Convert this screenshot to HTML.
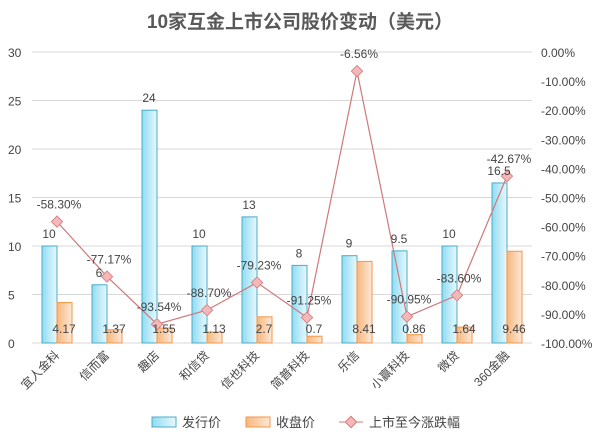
<!DOCTYPE html>
<html><head><meta charset="utf-8"><style>
body{margin:0;background:#fff}
svg text{font-family:"Liberation Sans","Noto Sans CJK SC",sans-serif;fill:#444}
</style></head><body>
<svg width="600" height="442">
<defs>
<linearGradient id="gb" x1="0" x2="1" y1="0" y2="0"><stop offset="0" stop-color="#8fdcf2"/><stop offset="1" stop-color="#e8f8fd"/></linearGradient>
<linearGradient id="go" x1="0" x2="1" y1="0" y2="0"><stop offset="0" stop-color="#f7b77e"/><stop offset="1" stop-color="#fde8d6"/></linearGradient>
</defs>
<text x="300" y="28" text-anchor="middle" font-size="19" font-weight="bold" style="fill:#595959">10家互金上市公司股价变动（美元）</text>
<g id="grid"></g><g id="bars"></g><g id="line"></g><g id="labels"></g>
<g>
<rect x="152" y="417" width="24" height="10" fill="url(#gb)" stroke="#4bacc6"/>
<text x="182" y="427" font-size="13">发行价</text>
<rect x="246" y="417" width="24" height="10" fill="url(#go)" stroke="#f79646"/>
<text x="276" y="427" font-size="13">收盘价</text>
<line x1="339" y1="422" x2="363" y2="422" stroke="#d0787a"/>
<rect x="347" y="418" width="8" height="8" fill="#f4b8b8" stroke="#d0787a" transform="rotate(45 351 422)"/>
<text x="369" y="427" font-size="13">上市至今涨跌幅</text>
</g>
</svg>
<script>
const categories=["宜人金科","信而富","趣店","和信贷","信也科技","简普科技","乐信","小赢科技","微贷","360金融"];
const issuePrice=[10,6,24,10,13,8,9,9.5,10,16.5];
const closePrice=[4.17,1.37,1.55,1.13,2.7,0.7,8.41,0.86,1.64,9.46];
const changePct=[-58.30,-77.17,-93.54,-88.70,-79.23,-91.25,-6.56,-90.95,-83.60,-42.67];
const leftTicks=[0,5,10,15,20,25,30];
const rightTicks=[0,-10,-20,-30,-40,-50,-60,-70,-80,-90,-100];
const NS="http://www.w3.org/2000/svg";
const x0=32,x1=532,yTop=52,yBot=343;
const band=(x1-x0)/categories.length;
const cx=i=>x0+band*(i+0.5);
const yL=v=>yBot-(v/30)*(yBot-yTop);
const yR=v=>yTop+(-v/100)*(yBot-yTop);
function mk(tag,attrs,parent,txt){const e=document.createElementNS(NS,tag);for(const k in attrs)e.setAttribute(k,attrs[k]);if(txt!==undefined)e.textContent=txt;document.getElementById(parent).appendChild(e);return e;}
leftTicks.forEach(t=>{
 const l=mk("line",{x1:x0,x2:x1,y1:yL(t),y2:yL(t),stroke:"#d9d9d9"},"grid");
 
 
 const tx=mk("text",{x:8,y:yL(t)+5,"font-size":12},"grid",t);
 
 
});
rightTicks.forEach(t=>{
 const tx=mk("text",{x:541,y:yR(t)+5,"font-size":12},"grid",t.toFixed(2)+"%");
 
 
});
categories.forEach((c,i)=>{
 const b=mk("rect",{x:cx(i)-15,y:yL(issuePrice[i]),width:15,height:yBot-yL(issuePrice[i]),fill:"url(#gb)",stroke:"#4bacc6","stroke-width":1},"bars");
 
 
 const o=mk("rect",{x:cx(i),y:yL(closePrice[i]),width:15,height:yBot-yL(closePrice[i]),fill:"url(#go)",stroke:"#f79646","stroke-width":1},"bars");
 
 
 const t1=mk("text",{x:cx(i)-8,y:yL(issuePrice[i])-8,"text-anchor":"middle","font-size":12},"labels",issuePrice[i]);
 
 
 const t2=mk("text",{x:cx(i)+7,y:333,"text-anchor":"middle","font-size":12},"labels",closePrice[i]);
 
 
 const cl=mk("text",{x:cx(i)+2,y:yR(changePct[i])-13,"text-anchor":"middle","font-size":12},"labels",changePct[i].toFixed(2)+"%");
 
 
 const xl=mk("text",{x:cx(i)+3,y:356,"text-anchor":"end","font-size":12,transform:`rotate(-45 ${cx(i)+3} 356)`},"labels",c);
 
 
});
const pts=changePct.map((v,i)=>cx(i)+","+yR(v)).join(" ");
const pl=mk("polyline",{points:pts,fill:"none",stroke:"#d0787a","stroke-width":1.2},"line");


changePct.forEach((v,i)=>{
 const d=mk("rect",{x:cx(i)-4,y:yR(v)-4,width:8,height:8,fill:"#f4b8b8",stroke:"#d0787a","stroke-width":0.8,transform:`rotate(45 ${cx(i)} ${yR(v)})`},"line");
 
 
});
</script>
</body></html>
